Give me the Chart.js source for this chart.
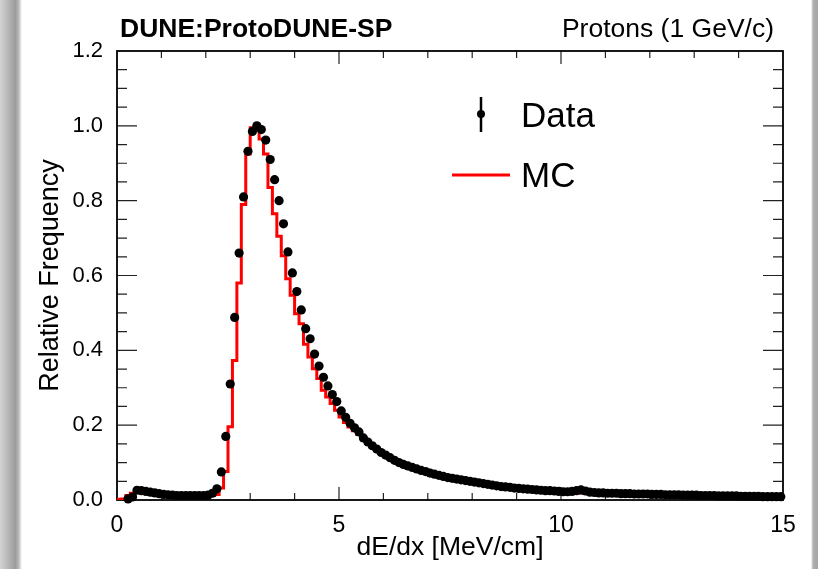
<!DOCTYPE html>
<html>
<head>
<meta charset="utf-8">
<script src="https://cdn.jsdelivr.net/npm/chart.js@4.4.0/dist/chart.umd.min.js"></script>
<style>
  html, body { margin: 0; padding: 0; background: #fff; }
  #wrap { width: 818px; height: 569px; }
</style>
</head>
<body>
<div id="wrap"><canvas id="chart" width="818" height="569"></canvas></div>
<script>
// dE/dx histogram, 150 bins of 0.1 MeV/cm from 0 to 15
const binWidth = 0.1;
const xMin = 0, xMax = 15;

// Data points (bin contents, null = empty bin), one row per MeV/cm
const dataValues = [
  null, null, 0.003, 0.008, 0.026, 0.025, 0.023, 0.021, 0.019, 0.017,
  0.015, 0.014, 0.013, 0.012, 0.012, 0.012, 0.012, 0.012, 0.012, 0.012,
  0.013, 0.018, 0.030, 0.075, 0.170, 0.310, 0.488, 0.660, 0.810, 0.932,
  0.985, 1.000, 0.990, 0.962, 0.910, 0.856, 0.800, 0.738, 0.663, 0.607,
  0.557, 0.508, 0.458, 0.431, 0.390, 0.358, 0.328, 0.305, 0.282, 0.263,
  0.238, 0.221, 0.205, 0.193, 0.182, 0.166, 0.155, 0.145, 0.136, 0.127,
  0.120, 0.113, 0.106, 0.100, 0.095, 0.091, 0.087, 0.083, 0.079, 0.076,
  0.072, 0.069, 0.066, 0.063, 0.060, 0.058, 0.056, 0.054, 0.052, 0.050,
  0.048, 0.046, 0.044, 0.042, 0.040, 0.038, 0.036, 0.035, 0.034, 0.032,
  0.031, 0.030, 0.029, 0.028, 0.027, 0.026, 0.025, 0.025, 0.024, 0.023,
  0.022, 0.022, 0.023, 0.025, 0.027, 0.024, 0.021, 0.020, 0.019, 0.019,
  0.018, 0.018, 0.018, 0.017, 0.017, 0.017, 0.016, 0.016, 0.016, 0.016,
  0.015, 0.015, 0.015, 0.014, 0.014, 0.014, 0.014, 0.013, 0.013, 0.013,
  0.013, 0.012, 0.012, 0.012, 0.012, 0.011, 0.011, 0.011, 0.011, 0.011,
  0.010, 0.010, 0.010, 0.010, 0.010, 0.009, 0.009, 0.009, 0.009, 0.009
];

// MC histogram (bin contents)
const mcValues = [
  0.002, 0.003, 0.012, 0.018, 0.022, 0.022, 0.021, 0.019, 0.018, 0.016,
  0.015, 0.014, 0.013, 0.012, 0.012, 0.011, 0.011, 0.011, 0.011, 0.011,
  0.011, 0.012, 0.015, 0.032, 0.076, 0.196, 0.373, 0.580, 0.790, 0.925,
  0.995, 1.000, 0.965, 0.925, 0.835, 0.765, 0.705, 0.653, 0.591, 0.547,
  0.498, 0.471, 0.416, 0.382, 0.351, 0.325, 0.293, 0.275, 0.258, 0.240,
  0.222, 0.207, 0.195, 0.185, 0.175, 0.162, 0.151, 0.141, 0.132, 0.124,
  0.117, 0.110, 0.104, 0.098, 0.093, 0.089, 0.085, 0.081, 0.077, 0.074,
  0.070, 0.067, 0.064, 0.061, 0.059, 0.057, 0.055, 0.053, 0.051, 0.049,
  0.047, 0.045, 0.043, 0.041, 0.039, 0.037, 0.035, 0.034, 0.033, 0.031,
  0.030, 0.029, 0.028, 0.027, 0.026, 0.025, 0.024, 0.023, 0.023, 0.022,
  0.021, 0.021, 0.020, 0.020, 0.019, 0.019, 0.019, 0.018, 0.018, 0.018,
  0.017, 0.017, 0.017, 0.016, 0.016, 0.016, 0.016, 0.015, 0.015, 0.015,
  0.015, 0.014, 0.014, 0.014, 0.014, 0.013, 0.013, 0.013, 0.013, 0.013,
  0.012, 0.012, 0.012, 0.012, 0.011, 0.011, 0.011, 0.011, 0.011, 0.010,
  0.010, 0.010, 0.010, 0.010, 0.009, 0.009, 0.009, 0.009, 0.009, 0.009
];

const xTickLabels = ['0', '5', '10', '15'];
const yTickLabels = ['0.0', '0.2', '0.4', '0.6', '0.8', '1.0', '1.2'];

const FONT = '"Liberation Sans", Arial, Helvetica, sans-serif';

// data -> points at bin centres, MC -> step line through bin low edges
const dataPoints = [];
dataValues.forEach((v, i) => {
  if (v !== null) dataPoints.push({ x: +(i * binWidth + binWidth / 2).toFixed(3), y: v });
});
const mcPoints = mcValues.map((v, i) => ({ x: +(i * binWidth).toFixed(3), y: v }));
mcPoints.push({ x: xMax, y: mcValues[mcValues.length - 1] });

// grey window edges + white background
const backdrop = {
  id: 'backdrop',
  beforeDraw(chart) {
    const { ctx, width, height } = chart;
    ctx.save();
    ctx.fillStyle = '#fff';
    ctx.fillRect(0, 0, width, height);
    const gl = ctx.createLinearGradient(0, 0, 22, 0);
    gl.addColorStop(0, '#d4d4d4');
    gl.addColorStop(0.7, '#9c9c9c');
    gl.addColorStop(0.85, '#b8b8b8');
    gl.addColorStop(1, '#ffffff');
    ctx.fillStyle = gl;
    ctx.fillRect(0, 0, 22, height);
    const gr = ctx.createLinearGradient(811, 0, 818, 0);
    gr.addColorStop(0, '#ffffff');
    gr.addColorStop(0.3, '#b0b0b0');
    gr.addColorStop(1, '#a4a4a4');
    ctx.fillStyle = gr;
    ctx.fillRect(811, 0, 7, height);
    ctx.restore();
  }
};

// ROOT style frame with inward ticks on all four sides
const frame = {
  id: 'frame',
  beforeDatasetsDraw(chart) {
    const { ctx, chartArea: a, scales: { x, y } } = chart;
    ctx.save();
    ctx.strokeStyle = '#222';
    ctx.lineWidth = 1.2;
    ctx.beginPath();
    for (let v = 1; v < 15; v++) {
      const px = x.getPixelForValue(v);
      const len = v % 5 === 0 ? 13 : 7;
      ctx.moveTo(px, a.bottom); ctx.lineTo(px, a.bottom - len);
      ctx.moveTo(px, a.top); ctx.lineTo(px, a.top + len);
    }
    for (let k = 1; k < 24; k++) {
      const py = y.getPixelForValue(k * 0.05);
      const len = k % 4 === 0 ? 20 : 10;
      ctx.moveTo(a.left, py); ctx.lineTo(a.left + len, py);
      ctx.moveTo(a.right, py); ctx.lineTo(a.right - len, py);
    }
    ctx.stroke();
    ctx.strokeStyle = '#000';
    ctx.lineWidth = 1.8;
    ctx.strokeRect(a.left, a.top, a.right - a.left, a.bottom - a.top);
    ctx.restore();
  }
};

// header texts and legend
const labels = {
  id: 'labels',
  afterDraw(chart) {
    const { ctx } = chart;
    ctx.save();
    ctx.fillStyle = '#000';
    ctx.textBaseline = 'alphabetic';
    ctx.font = 'bold 26.5px ' + FONT;
    ctx.textAlign = 'left';
    ctx.fillText('DUNE:ProtoDUNE-SP', 120, 37);
    ctx.font = '26.5px ' + FONT;
    ctx.textAlign = 'right';
    ctx.fillText('Protons (1 GeV/c)', 774, 37);

    // legend
    ctx.strokeStyle = '#000';
    ctx.lineWidth = 2.5;
    ctx.beginPath();
    ctx.moveTo(481, 97); ctx.lineTo(481, 132);
    ctx.stroke();
    ctx.beginPath();
    ctx.arc(481, 114, 4, 0, Math.PI * 2);
    ctx.fill();
    ctx.strokeStyle = '#ff0000';
    ctx.lineWidth = 3;
    ctx.beginPath();
    ctx.moveTo(452, 175); ctx.lineTo(510, 175);
    ctx.stroke();
    ctx.font = '35px ' + FONT;
    ctx.textAlign = 'left';
    ctx.fillText('Data', 521, 127);
    ctx.fillText('MC', 521, 187);
    ctx.restore();
  }
};

new Chart(document.getElementById('chart'), {
  type: 'scatter',
  data: {
    datasets: [
      {
        label: 'Data',
        data: dataPoints,
        backgroundColor: '#000',
        borderColor: '#000',
        pointRadius: 4.6,
        pointBorderWidth: 0,
        clip: 8,
        order: 1
      },
      {
        label: 'MC',
        data: mcPoints,
        showLine: true,
        stepped: true,
        borderColor: '#ff0000',
        borderWidth: 3,
        pointRadius: 0,
        fill: false,
        order: 2
      }
    ]
  },
  options: {
    responsive: false,
    animation: false,
    layout: { padding: { left: 0, right: 35, top: 51, bottom: 0 } },
    plugins: { legend: { display: false }, tooltip: { enabled: false } },
    scales: {
      x: {
        type: 'linear',
        min: xMin, max: xMax,
        grid: { display: false },
        border: { display: false },
        afterFit(scale) { scale.height = 69; },
        afterBuildTicks(scale) {
          scale.ticks = xTickLabels.map(t => ({ value: +t }));
        },
        ticks: {
          color: '#000',
          padding: 4,
          maxRotation: 0,
          font: { family: FONT, size: 23 },
          callback: (v) => xTickLabels.find(t => +t === v) || ''
        },
        title: {
          display: true,
          text: 'dE/dx [MeV/cm]',
          color: '#000',
          font: { family: FONT, size: 26.5, lineHeight: 1 },
          padding: { top: 0, bottom: 8 }
        }
      },
      y: {
        type: 'linear',
        min: 0, max: 1.2,
        grid: { display: false },
        border: { display: false },
        afterFit(scale) { scale.width = 117; },
        afterBuildTicks(scale) {
          scale.ticks = yTickLabels.map(t => ({ value: +t }));
        },
        ticks: {
          color: '#000',
          padding: 6,
          font: { family: FONT, size: 22 },
          callback: (v) => yTickLabels.find(t => +t === +v.toFixed(2)) || ''
        },
        title: {
          display: true,
          text: 'Relative Frequency',
          color: '#000',
          font: { family: FONT, size: 27, lineHeight: 1 },
          padding: { top: 37, bottom: 0 }
        }
      }
    }
  },
  plugins: [backdrop, frame, labels]
});
</script>
</body>
</html>
